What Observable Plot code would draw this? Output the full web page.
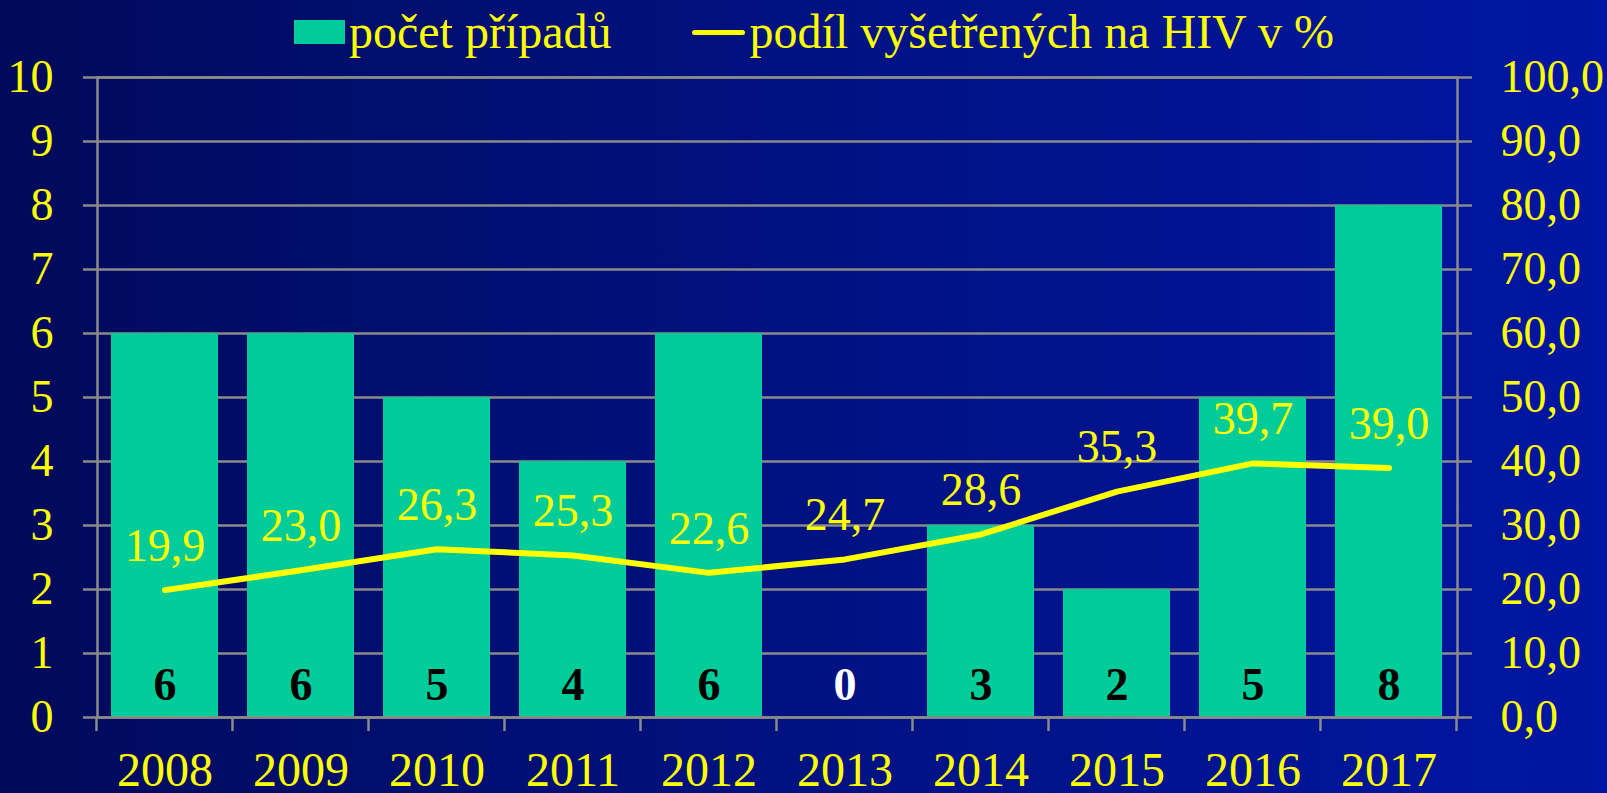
<!DOCTYPE html>
<html>
<head>
<meta charset="utf-8">
<script src="https://cdn.jsdelivr.net/npm/d3@7"></script>
<script src="https://cdn.jsdelivr.net/npm/@observablehq/plot@0.6"></script>
<style>
  html, body { margin: 0; padding: 0; }
  body {
    width: 1607px; height: 793px; overflow: hidden; position: relative;
    background: linear-gradient(to right, #000a5a 0%, #00117e 45%, #0016a2 100%);
    font-family: "Times New Roman", "Liberation Serif", Tinos, "DejaVu Serif", serif;
  }
  #legend {
    position: absolute; left: 294px; top: 6px; height: 52px;
    display: flex; align-items: center; color: #ffff00; font-size: 48px; line-height: 48px;
    white-space: nowrap; z-index: 2;
  }
  .sw-bar { width: 51px; height: 24px; background: #00cc99; margin-right: 4px; }
  .sw-line { width: 53px; height: 5px; background: #ffff00; border-radius: 3px; margin-left: 80px; margin-right: 5px; }
  #chart { position: absolute; left: 0; top: 0; }
</style>
</head>
<body>
<div id="legend">
  <div class="sw-bar"></div><span id="lg1"></span>
  <div class="sw-line"></div><span id="lg2"></span>
</div>
<div id="chart"></div>
<script>
const years = ["2008", "2009", "2010", "2011", "2012", "2013", "2014", "2015", "2016", "2017"];
const cases = [6, 6, 5, 4, 6, 0, 3, 2, 5, 8];
const testedPct = [19.9, 23.0, 26.3, 25.3, 22.6, 24.7, 28.6, 35.3, 39.7, 39.0];
const leftTicks = [0, 1, 2, 3, 4, 5, 6, 7, 8, 9, 10];
const rightTickLabels = ["0,0", "10,0", "20,0", "30,0", "40,0", "50,0", "60,0", "70,0", "80,0", "90,0", "100,0"];
const seriesNames = ["počet případů", "podíl vyšetřených na HIV v %"];

document.getElementById("lg1").textContent = seriesNames[0];
document.getElementById("lg2").textContent = seriesNames[1];

const data = years.map((y, i) => ({ year: y, cases: cases[i], pct: testedPct[i] }));
const fmt = v => v.toFixed(1).replace(".", ",");

const GRID = "#8a8a8a";
const YEL = "#ffff00";
const FONT = "'Times New Roman', 'Liberation Serif', Tinos, 'DejaVu Serif', serif";

const plot = Plot.plot({
  width: 1607,
  height: 793,
  marginTop: 77,
  marginBottom: 76,
  marginLeft: 97,
  marginRight: 150,
  style: { background: "transparent", fontFamily: FONT, overflow: "visible" },
  x: { domain: years, paddingInner: 0.21, paddingOuter: 0.105, axis: null },
  y: { domain: [0, 10], axis: null },
  marks: [
    Plot.ruleY(leftTicks, { stroke: GRID, strokeWidth: 2.5 }),
    Plot.barY(data, { x: "year", y: "cases", fill: "#00cc99" }),
    Plot.frame({ stroke: GRID, strokeWidth: 2.5 }),
    Plot.axisY({ anchor: "left", label: null, ticks: leftTicks, tickSize: 14, tickPadding: 30, fontSize: 46, fontFamily: FONT, color: YEL, stroke: GRID, strokeWidth: 2.5 }),
    Plot.axisY({ anchor: "right", label: null, ticks: leftTicks, tickFormat: i => rightTickLabels[i], tickSize: 14, tickPadding: 29, fontSize: 46, fontFamily: FONT, color: YEL, stroke: GRID, strokeWidth: 2.5 }),
    Plot.axisX({ anchor: "bottom", label: null, tickSize: 0, tickPadding: 34, fontSize: 48, fontFamily: FONT, color: YEL }),
    Plot.line(data, { x: "year", y: d => d.pct / 10, stroke: YEL, strokeWidth: 6, strokeLinecap: "round", strokeLinejoin: "round" }),
    Plot.text(data, { x: "year", y: d => d.pct / 10, text: d => fmt(d.pct), dy: -44, fill: YEL, fontSize: 46, fontFamily: FONT }),
    Plot.text(data, { x: "year", y: 0, text: d => String(d.cases), dy: -32, fill: d => d.cases === 0 ? "#ffffff" : "#000000", fontSize: 46, fontWeight: "bold", fontFamily: FONT })
  ]
});

document.getElementById("chart").appendChild(plot);

// Category boundary tick marks under the baseline, positioned from the plot's own scales
const xs = plot.scale("x");
const ys = plot.scale("y");
const step = xs.step, bw = xs.bandwidth;
const gap = (step - bw) / 2;
const y0 = ys.apply(0);
const bounds = years.map(y => xs.apply(y) - gap).concat([xs.apply(years[years.length - 1]) + bw + gap]);
d3.select(plot).append("g")
  .selectAll("line").data(bounds).join("line")
  .attr("x1", d => d).attr("x2", d => d)
  .attr("y1", y0).attr("y2", y0 + 14)
  .attr("stroke", GRID).attr("stroke-width", 2.5);
</script>
</body>
</html>
